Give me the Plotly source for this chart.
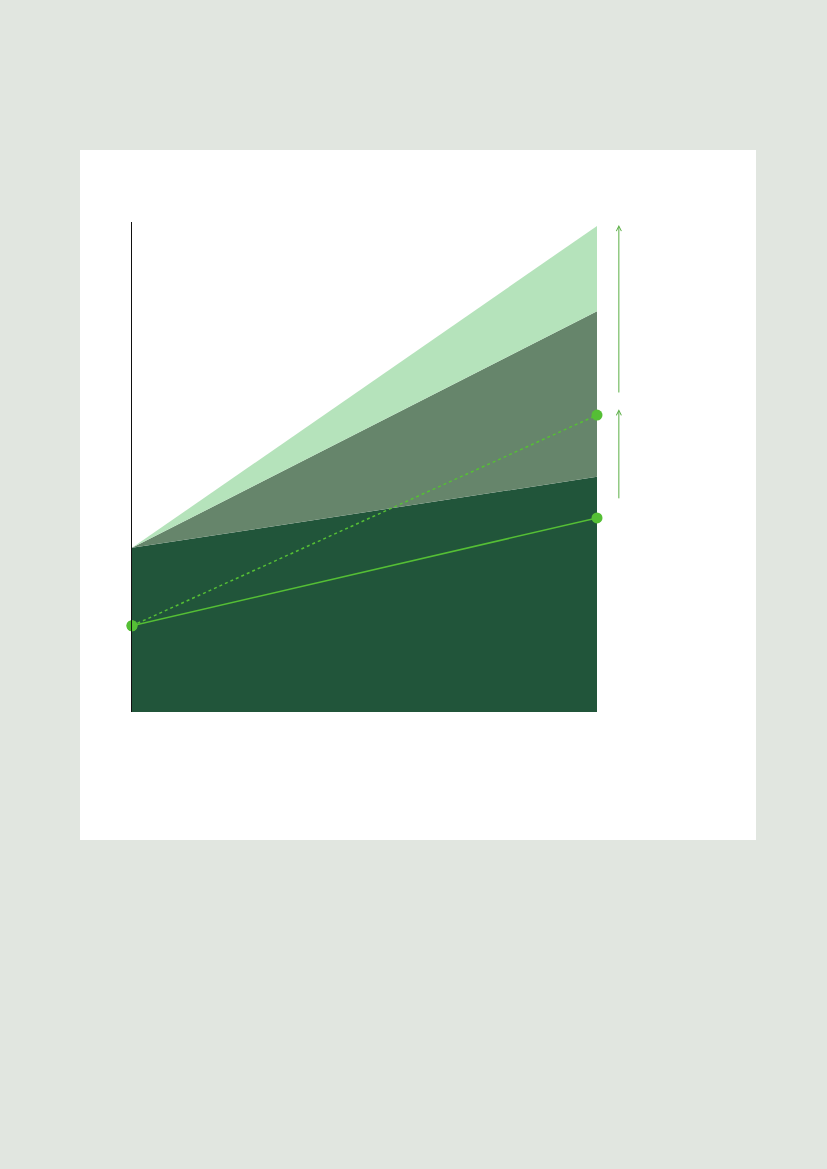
import plotly.graph_objects as go

# x positions: start and end of the period
years = [0, 1]

# stacked band tops (y units, 0-100)
base_band = [33.5, 48.0]
mid_band = [33.5, 81.8]
top_band = [33.5, 99.2]

# the two trend lines
solid_line = [17.6, 39.6]
dotted_line = [17.6, 60.6]

# arrow ranges at the right side (from, to)
arrow_upper = [64.9, 99.4]
arrow_lower = [43.3, 61.8]
arrow_x = 1.047

dark = '#21553a'
mid = '#66856b'
light = '#b5e3bb'
lime = '#55bf35'

fig = go.Figure()

fig.add_trace(go.Scatter(x=years, y=base_band, mode='lines', line=dict(width=0),
                         fill='tozeroy', fillcolor=dark, hoverinfo='skip'))
fig.add_trace(go.Scatter(x=years, y=mid_band, mode='lines', line=dict(width=0),
                         fill='tonexty', fillcolor=mid, hoverinfo='skip'))
fig.add_trace(go.Scatter(x=years, y=top_band, mode='lines', line=dict(width=0),
                         fill='tonexty', fillcolor=light, hoverinfo='skip'))

fig.add_trace(go.Scatter(x=years, y=dotted_line, mode='lines+markers', cliponaxis=False,
                         line=dict(color=lime, width=1.5, dash='dot'),
                         marker=dict(color=lime, size=11)))
fig.add_trace(go.Scatter(x=years, y=solid_line, mode='lines+markers', cliponaxis=False,
                         line=dict(color=lime, width=1.5),
                         marker=dict(color=lime, size=11)))

# arrows sit outside the x range, so place them in paper coords
for a in [arrow_upper, arrow_lower]:
    fig.add_annotation(x=arrow_x, y=a[1], ax=0, ay=a[0],
                       xref='paper', yref='y', axref='pixel', ayref='y',
                       text='', showarrow=True, arrowhead=5, arrowsize=1,
                       arrowwidth=1, arrowcolor='#5aae45')

# white card behind the chart
fig.add_shape(type='rect', xref='paper', yref='paper', layer='below',
              x0=(80 - 132) / 465, x1=(756 - 132) / 465,
              y0=(712 - 840) / 490, y1=(712 - 150) / 490,
              fillcolor='white', line=dict(width=0))

fig.update_layout(
    width=827, height=1169,
    margin=dict(l=132, r=230, t=222, b=457),
    paper_bgcolor='#e1e6e0',
    plot_bgcolor='rgba(0,0,0,0)',
    showlegend=False,
)
fig.update_xaxes(range=[0, 1], showgrid=False, zeroline=False, showticklabels=False,
                 ticks='', showline=False)
fig.update_yaxes(range=[0, 100], showgrid=False, zeroline=False, showticklabels=False,
                 ticks='', showline=True, linecolor='#111111', linewidth=1)

fig.write_html("out.html", config={'displayModeBar': False},
               post_script="document.body.style.margin='0';document.body.style.background='#e1e6e0';")
